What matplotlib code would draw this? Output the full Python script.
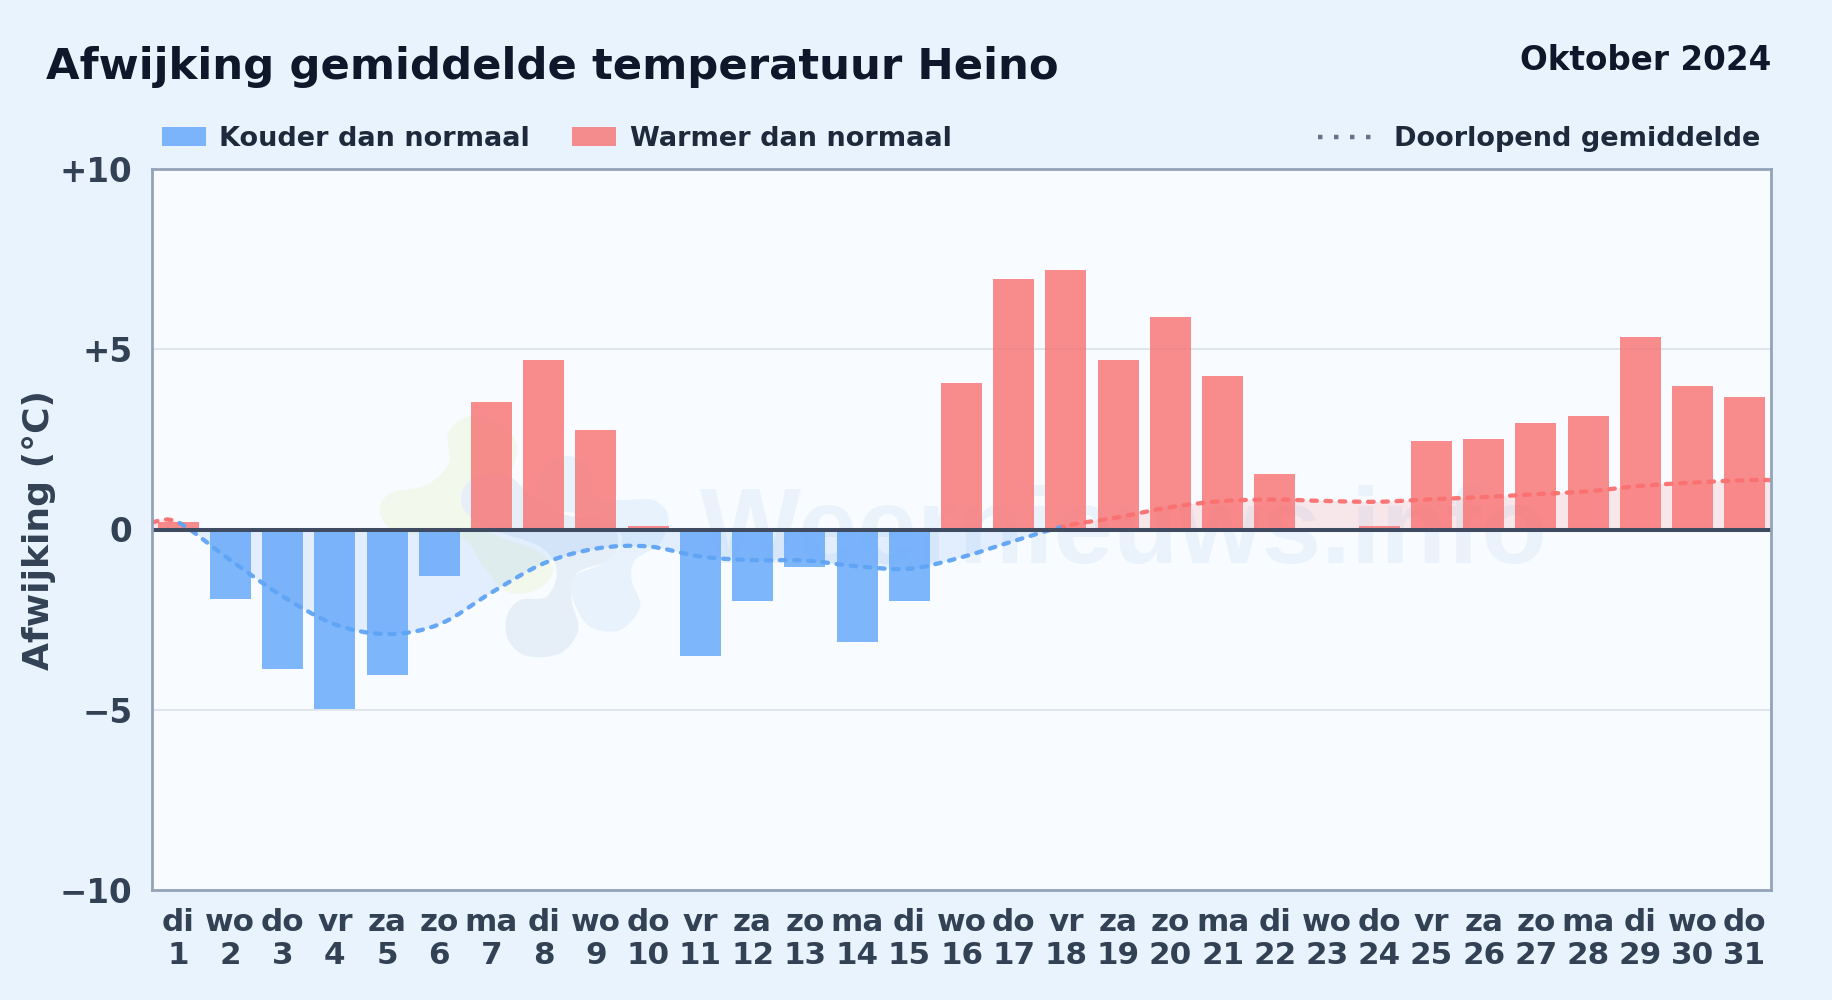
import numpy as np
import matplotlib
matplotlib.use("Agg")
import matplotlib.pyplot as plt
from matplotlib.path import Path
from matplotlib.patches import PathPatch, Patch, Rectangle
from matplotlib.lines import Line2D
from matplotlib.transforms import IdentityTransform

plt.rcParams['font.family'] = ['DejaVu Sans']

weekdays = ["di","wo","do","vr","za","zo","ma"]*4 + ["di","wo","do"]
days = list(range(1, 32))
deviation = [0.2,-1.93,-3.88,-4.98,-4.03,-1.3,3.55,4.7,2.75,0.1,-3.5,-1.97,-1.05,-3.13,-1.97,
             4.05,6.95,7.2,4.7,5.9,4.25,1.55,0.0,0.1,2.45,2.5,2.95,3.15,5.35,3.97,3.67]
running = [0.2,-0.85,-1.85,-2.63,-2.9,-2.63,-1.75,-0.94,-0.53,-0.47,-0.75,-0.85,-0.86,-1.02,-1.09,
           -0.77,-0.32,0.1,0.34,0.62,0.79,0.83,0.79,0.77,0.84,0.9,0.98,1.06,1.21,1.3,1.37]
yticks = [-10,-5,0,5,10]
yticklabels = ["\u221210","\u22125","0","+5","+10"]

W, H = 1832, 1000
BG, AXBG = "#e8f3fd", "#f8fbff"
BLUE, RED = "#60a5fa", "#f87171"

fig = plt.figure(figsize=(W/100, H/100), dpi=100, facecolor=BG)
L, R, T, B = 152, 1771, 169, 890
ax = fig.add_axes([L/W, 1-B/H, (R-L)/W, (B-T)/H], facecolor=AXBG)
ax.set_xlim(0.5, 31.5)
ax.set_ylim(-10, 10)

def smooth(xs, ys):
    """Bezier path through the given points (rendering of the curve only)."""
    xs, ys = np.asarray(xs, float), np.asarray(ys, float)
    verts, codes = [(xs[0], ys[0])], [Path.MOVETO]
    n = len(xs)
    for i in range(n-1):
        p0 = max(i-1, 0); p3 = min(i+2, n-1)
        c1 = (xs[i]+(xs[i+1]-xs[p0])/6, ys[i]+(ys[i+1]-ys[p0])/6)
        c2 = (xs[i+1]-(xs[p3]-xs[i])/6, ys[i+1]-(ys[p3]-ys[i])/6)
        verts += [c1, c2, (xs[i+1], ys[i+1])]
        codes += [Path.CURVE4]*3
    return verts, codes

# watermark blobs, outlined in reference pixels relative to a crop origin
def blob(points, color, alpha=1.0, z=0.5):
    pts = [(360+x/3, 400+y/3) for x, y in points]
    pts = pts + pts[:3]
    xs = [p[0] for p in pts]; ys = [H-p[1] for p in pts]
    v, c = smooth(xs, ys)
    v = v[3:-3]; c = c[3:-3]
    c[0] = Path.MOVETO
    patch = PathPatch(Path(v, c), facecolor=color, edgecolor="none", alpha=alpha,
                      transform=IdentityTransform(), zorder=z)
    ax.add_patch(patch)

blob([(60,340),(90,280),(200,255),(265,190),(265,100),(320,50),(400,60),(470,130),(440,230),
      (330,300),(400,400),(530,450),(580,510),(530,570),(440,575),(370,500),(300,410),(120,400)],
     "#f3f8ec", 0.9)
blob([(305,280),(350,228),(440,225),(520,290),(620,345),(740,360),(775,420),(750,480),(650,520),
      (635,600),(655,690),(600,760),(500,768),(445,720),(440,650),(480,600),(560,590),(590,510),(540,440),(400,390),(320,340)],
     "#e6eff8", 0.95)
blob([(530,260),(570,185),(640,170),(690,220),(700,290),(790,300),(880,300),(925,350),(900,430),
      (825,480),(815,540),(840,620),(780,690),(690,680),(640,600),(640,530),(720,495),(780,440),(770,390),(650,340),(560,330)],
     "#e7f2fd", 0.95)
ax.text(1124/W, 1-535/H, "Weernieuws.info", ha="center", va="center", fontsize=77,
        family="Liberation Sans", weight="bold", color="#e3effb", alpha=0.65, zorder=0.6,
        transform=fig.transFigure)

# grid
ax.set_yticks(yticks)
ax.set_yticklabels(yticklabels)
ax.grid(axis="y", color="#dfe6ee", lw=1.4, zorder=0.7)
ax.set_axisbelow(True)

# bars
colors = [RED if v >= 0 else BLUE for v in deviation]
ax.bar(days, deviation, width=0.785, color=colors, alpha=0.8, zorder=2, linewidth=0)

# running mean (area + line), coloured by sign; held flat out to both plot edges
xs = [0.5] + days + [31.5]
ys = [running[0]] + running + [running[-1]]
v, c = smooth(xs, ys)
line_path = Path(v, c)
area_path = Path(v + [(31.5, 0), (0.5, 0), (0.5, 0)], c + [Path.LINETO, Path.LINETO, Path.CLOSEPOLY])
for color, rect in [(BLUE, (1.0, -10, 30.5, 10)), (RED, (0.5, 0, 31, 10))]:
    clip = Rectangle((rect[0], rect[1]), rect[2], rect[3], transform=ax.transData)
    a = PathPatch(area_path, facecolor=color, alpha=0.14, edgecolor="none", zorder=1.5)
    ax.add_patch(a); a.set_clip_path(clip)
clip_blue = Rectangle((1.0, -10), 16.9, 20.3, transform=ax.transData)
clip_red = [Rectangle((0.5, -10), 0.5, 20.3, transform=ax.transData),
            Rectangle((17.9, -10), 13.6, 20.3, transform=ax.transData)]
def dashed(color, clip):
    p = PathPatch(line_path, fill=False, edgecolor=color, lw=3.1, capstyle="round",
                  linestyle=(0, (1.3, 2.0)), zorder=3, alpha=0.95)
    ax.add_patch(p); p.set_clip_path(clip)
dashed("#5fa4f5", clip_blue)
for cl in clip_red:
    dashed("#fb7070", cl)

ax.axhline(0, color="#3f4b61", lw=2.9, zorder=4)

for s in ax.spines.values():
    s.set_color("#94a3b8"); s.set_linewidth(2.0); s.set_zorder(5)

ax.set_xticks(days)
ax.set_xticklabels([f"{w}\n{d}" for w, d in zip(weekdays, days)], fontsize=22.3, fontweight="bold",
                   color="#334155", linespacing=1.17)
ax.tick_params(axis="x", length=0, pad=13)
ax.tick_params(axis="y", length=0, pad=14, labelsize=23.5, labelcolor="#334155")
for t in ax.get_yticklabels():
    t.set_fontweight("bold")

fig.text(39/W, 1-530/H, "Afwijking (\u00b0C)", rotation=90, ha="center", va="center",
         fontsize=26, fontweight="bold", color="#334155")
fig.text(46/W, 1-67/H, "Afwijking gemiddelde temperatuur Heino", ha="left", va="center",
         fontsize=31.2, fontweight="bold", color="#0f172a")
fig.text(1771/W, 1-61/H, "Oktober 2024", ha="right", va="center",
         fontsize=23.5, fontweight="bold", color="#0f172a")

# legends
leg1 = fig.legend(handles=[Patch(facecolor=BLUE, alpha=0.8, label="Kouder dan normaal"),
                           Patch(facecolor=RED, alpha=0.8, label="Warmer dan normaal")],
                  loc="center left", bbox_to_anchor=(162/W, 1-139/H), ncols=2, frameon=False,
                  prop=dict(size=19.5, weight="bold"), labelcolor="#1e293b",
                  handlelength=1.62, handleheight=0.72, handletextpad=0.5, columnspacing=1.55,
                  borderpad=0, borderaxespad=0)
leg2 = fig.legend(handles=[Line2D([], [], color="#64748b", lw=3.2, linestyle=(0, (1, 2.6)),
                                  label="Doorlopend gemiddelde")],
                  loc="center right", bbox_to_anchor=(1760/W, 1-139/H), frameon=False,
                  prop=dict(size=19.5, weight="bold"), labelcolor="#1e293b",
                  handlelength=2.1, handletextpad=0.7, borderpad=0, borderaxespad=0)

fig.savefig("out.png", dpi=100, facecolor=BG)
